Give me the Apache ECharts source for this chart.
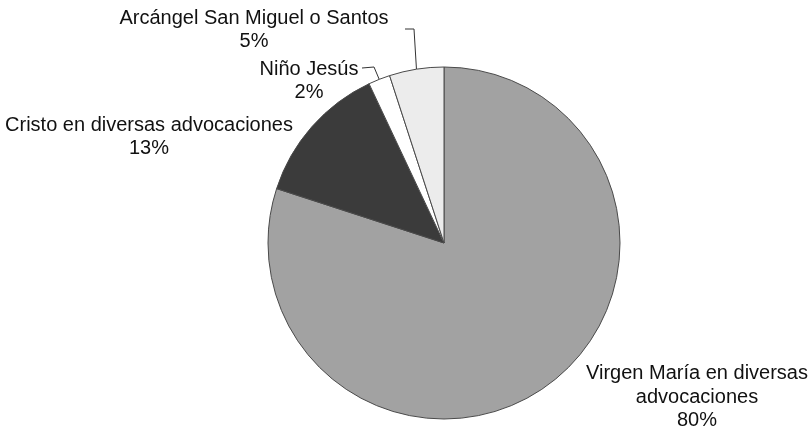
<!DOCTYPE html>
<html><head><meta charset="utf-8">
<script src="https://cdn.jsdelivr.net/npm/echarts@6/dist/echarts.min.js"></script>
<style>html,body{margin:0;padding:0;background:#fff}#c{width:812px;height:433px}</style>
</head><body><div id="c"></div>
<script>
const categories = ['Virgen María en diversas\nadvocaciones', 'Cristo en diversas advocaciones', 'Niño Jesús', 'Arcángel San Miguel o Santos'];
const values = [80, 13, 2, 5];
const colors = ['#a2a2a2', '#3b3b3b', '#ffffff', '#ececec'];

const CX = 444, CY = 243, R = 176;
const labelPos = [[697, 397], [149, 137], [309, 81], [254, 30]];
const leaderBends = [null, null, [[374, 67], [362, 68]], [[414, 29], [405, 29]]];
const total = values.reduce((a, b) => a + b, 0);

function edgePoint(i) {
  let before = 0;
  for (let k = 0; k < i; k++) before += values[k];
  const mid = (before + values[i] / 2) / total * 2 * Math.PI;
  return [CX + R * Math.sin(mid), CY - R * Math.cos(mid)];
}

const chart = echarts.init(document.getElementById('c'), null, {renderer: 'canvas'});
chart.setOption({
  backgroundColor: '#ffffff',
  animation: false,
  series: [{
    type: 'pie',
    center: [CX, CY],
    radius: R,
    startAngle: 90,
    clockwise: true,
    avoidLabelOverlap: false,
    itemStyle: {borderColor: '#4a4a4a', borderWidth: 1},
    label: {
      show: true,
      position: 'outside',
      formatter: p => p.name + '\n' + p.value + '%',
      fontFamily: 'Liberation Sans, Arial, sans-serif',
      fontSize: 20,
      lineHeight: 23.5,
      color: '#111',
      align: 'center'
    },
    labelLine: {show: true, lineStyle: {color: '#333', width: 1}},
    labelLayout: function (p) {
      const i = p.dataIndex;
      const res = {x: labelPos[i][0], y: labelPos[i][1], align: 'center', verticalAlign: 'middle'};
      if (leaderBends[i]) {
        res.labelLinePoints = [edgePoint(i), leaderBends[i][0], leaderBends[i][1]];
      }
      return res;
    },
    data: categories.map((c, i) => ({
      name: c,
      value: values[i],
      itemStyle: {color: colors[i]},
      labelLine: {show: !!leaderBends[i]}
    }))
  }]
});
</script></body></html>
